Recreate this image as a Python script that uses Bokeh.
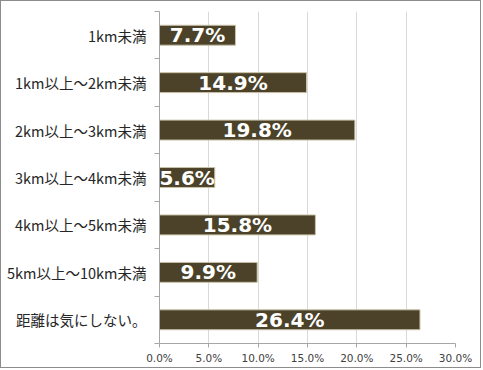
from bokeh.plotting import figure
from bokeh.models import (ColumnDataSource, Range1d, LinearAxis, FixedTicker,
                          PrintfTickFormatter, CustomJSTickFormatter)
from bokeh.core.properties import value
from bokeh.embed import file_html
from bokeh.resources import INLINE

categories = ["1km未満", "1km以上～2km未満", "2km以上～3km未満", "3km以上～4km未満",
              "4km以上～5km未満", "5km以上～10km未満", "距離は気にしない。"]
percent = [7.7, 14.9, 19.8, 5.6, 15.8, 9.9, 26.4]
x_ticks = [0, 5, 10, 15, 20, 25, 30]

n = len(categories)
ypos = [i + 0.5 for i in range(n)]
labels = [f"{v:.1f}%" for v in percent]
half = [v / 2 for v in percent]
src = ColumnDataSource(dict(y=ypos, val=percent, lab=labels, mid=half))

p = figure(width=481, height=368, output_backend="svg", toolbar_location=None,
           y_range=Range1d(n, 0), x_range=Range1d(0, 30),
           y_axis_location=None, x_axis_location=None,
           min_border_left=158, min_border_right=27, min_border_top=10, min_border_bottom=26)
p.outline_line_color = None
p.background_fill_color = "white"
p.border_fill_color = "white"
p.styles = {"border": "1px solid #8c8c8c"}

# x axis
xa = LinearAxis(ticker=FixedTicker(ticks=x_ticks), formatter=PrintfTickFormatter(format="%.1f%%"))
xa.axis_line_color = "#a6a6a6"
xa.major_tick_line_color = "#a6a6a6"
xa.major_tick_out = 4
xa.major_tick_in = 0
xa.minor_tick_line_color = None
xa.major_label_standoff = 4
xa.major_label_text_font = "DejaVu Sans"
xa.major_label_text_font_size = "10.5px"
xa.major_label_text_color = "#404040"
p.add_layout(xa, "below")

# boundary ticks axis (category edges)
ea = LinearAxis(ticker=FixedTicker(ticks=list(range(n + 1))))
ea.axis_line_color = "#a6a6a6"
ea.major_tick_line_color = "#a6a6a6"
ea.major_tick_out = 5
ea.major_tick_in = 0
ea.minor_tick_line_color = None
ea.major_label_text_font_size = "0px"
ea.major_label_text_color = None
ea.major_label_standoff = 0
p.add_layout(ea, "left")

# category label axis
ca = LinearAxis(ticker=FixedTicker(ticks=ypos),
                formatter=CustomJSTickFormatter(args=dict(cats=categories),
                                                code="return cats[Math.floor(tick)];"))
ca.axis_line_color = None
ca.major_tick_line_color = None
ca.minor_tick_line_color = None
ca.major_label_standoff = 2
ca.major_label_text_font = "Noto Sans CJK JP"
ca.major_label_text_font_size = "14.5px"
ca.major_label_text_color = "#262626"
p.add_layout(ca, "left")

p.xgrid.ticker = FixedTicker(ticks=x_ticks)
p.xgrid.grid_line_color = "#d9d9d9"
p.ygrid.grid_line_color = None

p.hbar(y="y", right="val", left=0, height=0.42, source=src,
       fill_color="#4b4229", line_color="#c9c2a8", line_width=1)
p.text(x="mid", y="y", text="lab", source=src, text_align="center", text_baseline="middle",
       text_color="white", text_font=value("DejaVu Sans"), text_font_style="bold",
       text_font_size="20px")

open("out.html", "w").write(file_html(p, INLINE))
